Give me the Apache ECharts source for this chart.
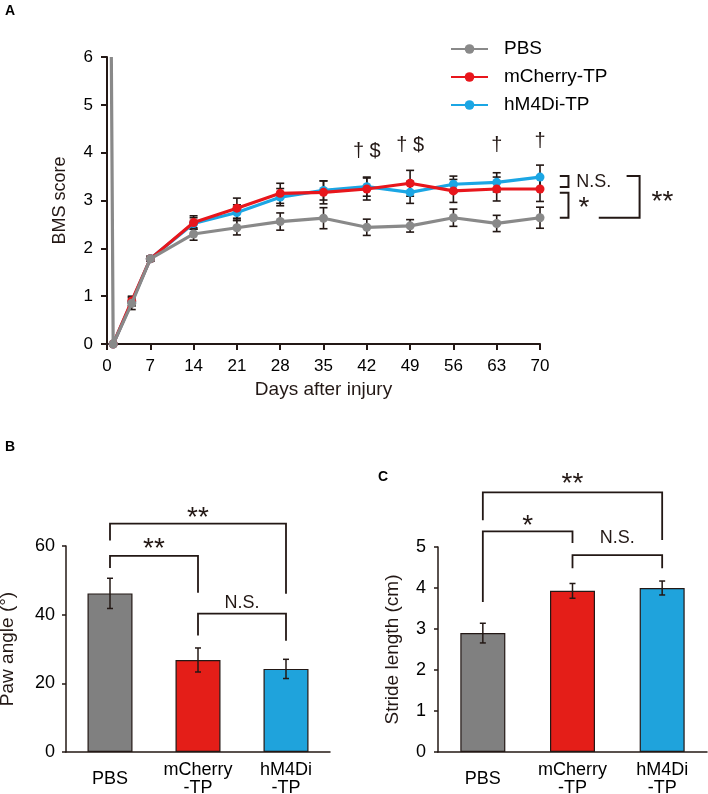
<!DOCTYPE html>
<html>
<head>
<meta charset="utf-8">
<title>BMS score, paw angle and stride length</title>
<script src="https://cdn.jsdelivr.net/npm/echarts@6/dist/echarts.min.js"></script>
<style>
  html, body { margin: 0; padding: 0; background: #fff; }
  #chart { width: 708px; height: 794px; }
</style>
</head>
<body>
<div id="chart"></div>
<script>
// --- A: BMS score over days after injury ---
const days = [1, 4, 7, 14, 21, 28, 35, 42, 49, 56, 63, 70];
const pbsPre = [0.7, 6];   // pre-injury point, line runs off the top
const pbsBms = [0, 0.85, 1.78, 2.30, 2.43, 2.56, 2.63, 2.44, 2.47, 2.64, 2.52, 2.64];
const pbsErr = [0, 0.13, 0.05, 0.13, 0.15, 0.18, 0.22, 0.17, 0.13, 0.18, 0.17, 0.22];
const mchBms = [0, 0.90, 1.78, 2.54, 2.84, 3.15, 3.17, 3.24, 3.36, 3.20, 3.24, 3.24];
const mchErr = [0, 0.10, 0.05, 0.14, 0.21, 0.21, 0.24, 0.23, 0.27, 0.24, 0.25, 0.26];
const hm4Bms = [0, 0.88, 1.78, 2.52, 2.75, 3.07, 3.21, 3.29, 3.17, 3.34, 3.38, 3.49];
const hm4Err = [0, 0.08, 0.05, 0.12, 0.16, 0.18, 0.20, 0.20, 0.23, 0.17, 0.20, 0.25];

// marks above time points
const markDays = [42, 49, 63, 70];
const markY = [4.02, 4.14, 4.14, 4.24];
const markText = ['† $', '† $', '†', '†'];

// right-side brackets: [x top start, x bottom start, x vertical, y top, y bottom]
const bracketsA = [[73.2, 73.2, 74.6, 3.51, 3.28], [73.2, 73.2, 74.6, 3.16, 2.64], [84, 79.5, 86.1, 3.51, 2.64]];
const bracketTextA = ['N.S.', '*', '**'];
const bracketTextPosA = [[78.7, 3.38], [77.1, 2.80], [89.8, 2.93]];

// --- B / C: bar charts ---
const groups = ['PBS', 'mCherry\n-TP', 'hM4Di\n-TP'];
const barColors = ['#808080', '#e41e18', '#1fa3dc'];
const pawAngle = [46.2, 26.8, 24.2];
const pawAngleErr = [4.4, 3.5, 2.8];
const stride = [2.90, 3.93, 4.00];
const strideErr = [0.24, 0.18, 0.17];

// brackets: [left group, right group, y left foot, y top, y right foot]
const bracketsB = [[0, 1, 53.6, 57.1, 46.4], [0, 2, 61.6, 66.5, 46.1], [1, 2, 33.9, 40.3, 32.4]];
const bracketTextB = ['**', '**', 'N.S.'];
const bracketTextYB = [58.6, 67.4, 43.4];
const bracketsC = [[0, 1, 3.66, 5.38, 5.10], [0, 2, 5.65, 6.33, 5.17], [1, 2, 4.48, 4.80, 4.48]];
const bracketTextC = ['*', '**', 'N.S.'];
const bracketTextYC = [5.45, 6.48, 5.21];

const ink = '#231815';
const font = 'Liberation Sans, Arial, sans-serif';
const chart = echarts.init(document.getElementById('chart'));

function pairs(xs, ys) {
    return xs.map(function (x, i) { return [x, ys[i]]; });
}
function errRows(xs, ys, es) {
    return xs.map(function (x, i) { return [x, ys[i] - es[i], ys[i] + es[i]]; });
}

function errorBar(capHalf, width) {
    return function (params, api) {
        const x = api.value(0);
        const top = api.coord([x, api.value(2)]);
        const bot = api.coord([x, api.value(1)]);
        const s = { stroke: ink, lineWidth: width };
        return {
            type: 'group',
            children: [
                { type: 'line', shape: { x1: top[0], y1: top[1], x2: bot[0], y2: bot[1] }, style: s },
                { type: 'line', shape: { x1: top[0] - capHalf, y1: top[1], x2: top[0] + capHalf, y2: top[1] }, style: s },
                { type: 'line', shape: { x1: bot[0] - capHalf, y1: bot[1], x2: bot[0] + capHalf, y2: bot[1] }, style: s }
            ]
        };
    };
}

// asterisks are small in the font, so they get a bigger size
function markStyle(t, size) {
    const star = t.indexOf('*') >= 0;
    return {
        text: t,
        fontFamily: font,
        fontSize: star ? size + 10 : size,
        fill: ink,
        align: 'center',
        verticalAlign: 'middle'
    };
}
function markDrop(t) {
    return t.indexOf('*') >= 0 ? -2 : 0;
}

// line series + error bars for panel A
const lineDefs = [
    { name: 'hM4Di-TP', color: '#1ba6e4', y: hm4Bms, e: hm4Err },
    { name: 'mCherry-TP', color: '#e8161c', y: mchBms, e: mchErr },
    { name: 'PBS', color: '#898989', y: pbsBms, e: pbsErr }
];
const series = [];
lineDefs.forEach(function (d) {
    series.push({
        type: 'custom', xAxisIndex: 0, yAxisIndex: 0, z: 1, silent: true,
        renderItem: errorBar(4, 1.6),
        encode: { x: 0, y: [1, 2] },
        data: errRows(days, d.y, d.e)
    });
});
lineDefs.forEach(function (d, k) {
    let data = pairs(days, d.y);
    if (d.name === 'PBS') {
        data = [{ value: pbsPre, symbol: 'none' }].concat(data);
    }
    series.push({
        type: 'line', name: d.name, xAxisIndex: 0, yAxisIndex: 0, z: 3 + k,
        data: data, symbol: 'circle', symbolSize: 9,
        lineStyle: { color: d.color, width: 3.2 },
        itemStyle: { color: d.color },
        emphasis: { disabled: true }
    });
});

// time-point marks
series.push({
    type: 'custom', xAxisIndex: 0, yAxisIndex: 0, z: 6, silent: true,
    data: pairs(markDays, markY),
    renderItem: function (params, api) {
        const p = api.coord([api.value(0), api.value(1)]);
        return { type: 'text', x: p[0], y: p[1], style: markStyle(markText[params.dataIndex], 20) };
    }
});
// brackets on the right of A
series.push({
    type: 'custom', xAxisIndex: 0, yAxisIndex: 0, z: 6, silent: true, clip: false,
    data: bracketsA,
    renderItem: function (params, api) {
        const a = api.coord([api.value(0), api.value(3)]);
        const b = api.coord([api.value(2), api.value(3)]);
        const c = api.coord([api.value(2), api.value(4)]);
        const d = api.coord([api.value(1), api.value(4)]);
        const txt = bracketTextA[params.dataIndex];
        const t = api.coord(bracketTextPosA[params.dataIndex]);
        return {
            type: 'group',
            children: [
                { type: 'polyline', shape: { points: [a, b, c, d] }, style: { stroke: ink, lineWidth: 2, fill: null } },
                { type: 'text', x: t[0], y: t[1] + markDrop(txt), style: markStyle(txt, 18) }
            ]
        };
    }
});

function barPanel(idx, values, errs, brackets, texts, textYs) {
    series.push({
        type: 'bar', xAxisIndex: idx, yAxisIndex: idx, barWidth: 45, z: 2,
        data: values.map(function (v, i) { return { value: v, itemStyle: { color: barColors[i] } }; }),
        itemStyle: { borderColor: ink, borderWidth: 1.2 },
        emphasis: { disabled: true }
    });
    series.push({
        type: 'custom', xAxisIndex: idx, yAxisIndex: idx, z: 3, silent: true,
        renderItem: errorBar(3, 1.5),
        encode: { x: 0, y: [1, 2] },
        data: errRows([0, 1, 2], values, errs)
    });
    series.push({
        type: 'custom', xAxisIndex: idx, yAxisIndex: idx, z: 3, silent: true, clip: false,
        data: brackets,
        renderItem: function (params, api) {
            const l0 = api.coord([api.value(0), api.value(2)]);
            const l1 = api.coord([api.value(0), api.value(3)]);
            const r1 = api.coord([api.value(1), api.value(3)]);
            const r0 = api.coord([api.value(1), api.value(4)]);
            const txt = texts[params.dataIndex];
            const ty = api.coord([api.value(0), textYs[params.dataIndex]])[1];
            return {
                type: 'group',
                children: [
                    { type: 'polyline', shape: { points: [l0, l1, r1, r0] }, style: { stroke: ink, lineWidth: 1.8, fill: null } },
                    { type: 'text', x: (l1[0] + r1[0]) / 2, y: ty + markDrop(txt), style: markStyle(txt, 18) }
                ]
            };
        }
    });
}
barPanel(1, pawAngle, pawAngleErr, bracketsB, bracketTextB, bracketTextYB);
barPanel(2, stride, strideErr, bracketsC, bracketTextC, bracketTextYC);

function valueAxis(idx, min, max, step, name, gap, lineW, tickLen, margin) {
    return {
        type: 'value', gridIndex: idx, min: min, max: max, interval: step,
        name: name, nameLocation: 'middle', nameGap: gap,
        nameTextStyle: { fontFamily: font, fontSize: idx === 0 ? 18 : 19, color: ink },
        axisLine: { show: true, lineStyle: { color: ink, width: lineW } },
        axisTick: { show: true, length: tickLen, lineStyle: { color: ink, width: lineW } },
        axisLabel: { fontFamily: font, fontSize: idx === 0 ? 17 : 18, color: '#000', margin: margin },
        splitLine: { show: false }
    };
}
function groupAxis(idx) {
    return {
        type: 'category', gridIndex: idx, data: groups,
        axisLine: { lineStyle: { color: ink, width: 1.5 } },
        axisTick: { length: 4, lineStyle: { color: ink, width: 1.5 } },
        axisLabel: { fontFamily: font, fontSize: 18, color: '#000', lineHeight: 18, margin: 27, verticalAlign: 'middle', interval: 0 }
    };
}

const xA = valueAxis(0, 0, 70, 7, 'Days after injury', 36, 2, 6, 14);
xA.nameTextStyle.fontSize = 19;

chart.setOption({
    animation: false,
    title: [
        { text: 'A', left: 5, top: 4 },
        { text: 'B', left: 5, top: 440 },
        { text: 'C', left: 378, top: 470 }
    ].map(function (t) {
        t.padding = 0;
        t.textStyle = { fontFamily: font, fontSize: 14, fontWeight: 'bold', color: '#000' };
        return t;
    }),
    legend: {
        left: 450, top: 39, orient: 'vertical', padding: 0,
        data: ['PBS', 'mCherry-TP', 'hM4Di-TP'],
        itemWidth: 37, itemHeight: 12, itemGap: 8,
        textStyle: { fontFamily: font, fontSize: 19, color: '#000', lineHeight: 20, padding: [0, 0, 0, 11] },
        selectedMode: false
    },
    grid: [
        { left: 107, top: 57, width: 433, height: 287, outerBoundsMode: 'none' },
        { left: 66, top: 546, width: 264, height: 206, outerBoundsMode: 'none' },
        { left: 438, top: 547, width: 269, height: 205, outerBoundsMode: 'none' }
    ],
    xAxis: [xA, groupAxis(1), groupAxis(2)],
    yAxis: [
        valueAxis(0, 0, 6, 1, 'BMS score', 38, 2, 6, 14),
        valueAxis(1, 0, 60, 20, 'Paw angle (°)', 49, 1.5, 4, 11),
        valueAxis(2, 0, 5, 1, 'Stride length (cm)', 36, 1.5, 4, 12)
    ],
    series: series
});
window.onresize = chart.resize;
</script>
</body>
</html>
